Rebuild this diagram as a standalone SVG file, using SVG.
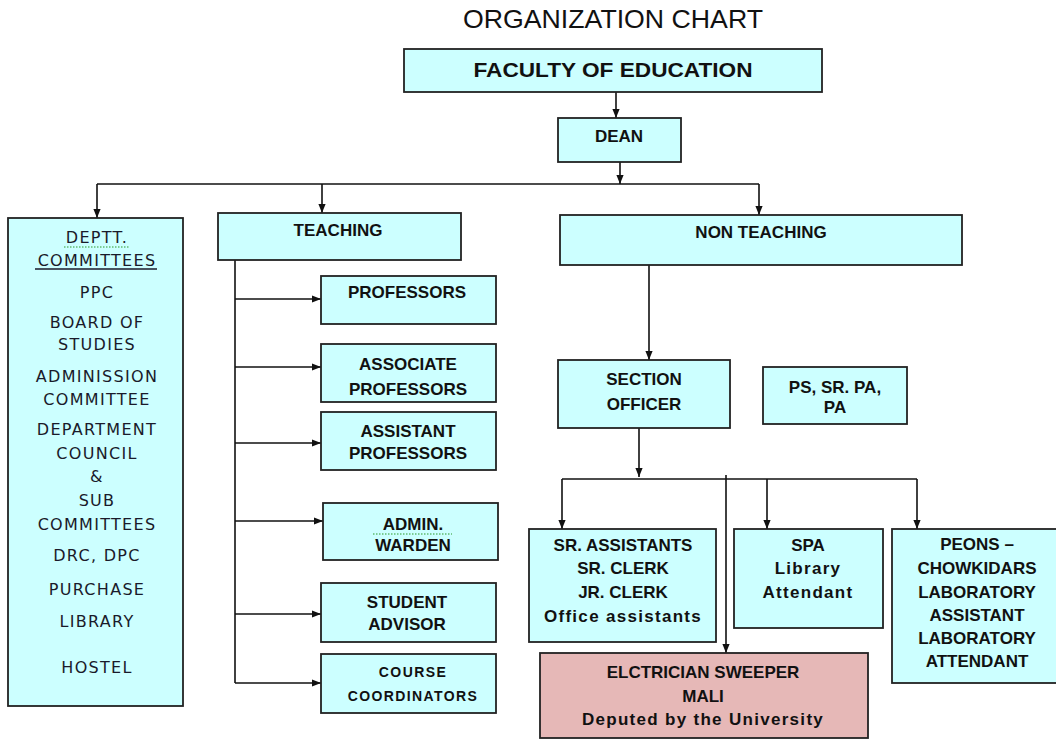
<svg xmlns="http://www.w3.org/2000/svg" width="1056" height="740" viewBox="0 0 1056 740">
<style>
.bx{fill:#CCFFFF;stroke:#222;stroke-width:1.8}
.pk{fill:#E6B8B7;stroke:#222;stroke-width:1.8}
.t{font-family:"Liberation Sans",Arial,sans-serif;font-weight:bold;font-size:17px;fill:#111;text-anchor:middle}
.lc{letter-spacing:1.3px}
.sm{font-size:14px;letter-spacing:1.4px}
.d{font-family:"DejaVu Sans",Verdana,sans-serif;font-size:16px;fill:#1a1a2a;text-anchor:middle;letter-spacing:1.3px}
.title{font-family:"Liberation Sans",Arial,sans-serif;font-size:25px;fill:#111;text-anchor:middle}
.c{fill:none;stroke:#111;stroke-width:1.6}
.ul{stroke:#1a1a2a;stroke-width:1.3}
.sp{fill:none;stroke:#2a9a2a;stroke-width:1.2;stroke-dasharray:1.5 1.5}
</style>
<defs>
<marker id="ah" viewBox="0 0 10 10" refX="10" refY="5" markerWidth="9" markerHeight="9" markerUnits="userSpaceOnUse" orient="auto">
<path d="M0,1 L10,5 L0,9 z" fill="#111"/>
</marker>
</defs>
<text class="title" x="613" y="28" textLength="300" lengthAdjust="spacingAndGlyphs">ORGANIZATION  CHART</text>
<g id="connectors">
<path class="c" d="M616,92 V118" marker-end="url(#ah)"/>
<path class="c" d="M620,162 V184" marker-end="url(#ah)"/>
<path class="c" d="M97,184 H759"/>
<path class="c" d="M97,184 V218" marker-end="url(#ah)"/>
<path class="c" d="M322,184 V213" marker-end="url(#ah)"/>
<path class="c" d="M759,184 V215" marker-end="url(#ah)"/>
<path class="c" d="M235,260 V683"/>
<path class="c" d="M235,299 H321" marker-end="url(#ah)"/>
<path class="c" d="M235,367 H321" marker-end="url(#ah)"/>
<path class="c" d="M235,443 H321" marker-end="url(#ah)"/>
<path class="c" d="M235,521 H323" marker-end="url(#ah)"/>
<path class="c" d="M235,614 H321" marker-end="url(#ah)"/>
<path class="c" d="M235,683 H321" marker-end="url(#ah)"/>
<path class="c" d="M649,265 V360" marker-end="url(#ah)"/>
<path class="c" d="M639,428 V477" marker-end="url(#ah)"/>
<path class="c" d="M562,479 H917"/>
<path class="c" d="M562,479 V529" marker-end="url(#ah)"/>
<path class="c" d="M767,479 V529" marker-end="url(#ah)"/>
<path class="c" d="M917,479 V529" marker-end="url(#ah)"/>
<path class="c" d="M726,475 V653" marker-end="url(#ah)"/>
</g>
<g id="faculty">
<rect class="bx" x="404" y="49" width="418" height="43"/>
<text class="t" x="613" y="77" style="font-size:19.5px" textLength="279" lengthAdjust="spacingAndGlyphs">FACULTY OF EDUCATION</text>
</g>
<g id="dean">
<rect class="bx" x="558" y="118" width="123" height="44"/>
<text class="t" x="619" y="142">DEAN</text>
</g>
<g id="deptt">
<rect class="bx" x="8" y="218" width="175" height="488"/>
<text class="d" x="97" y="243">DEPTT.</text>
<path class="sp" d="M64,247 H130"/>
<text class="d" x="97" y="266">COMMITTEES</text>
<line class="ul" x1="35" y1="269" x2="157" y2="269"/>
<text class="d" x="97" y="298">PPC</text>
<text class="d" x="97" y="328">BOARD OF</text>
<text class="d" x="97" y="350">STUDIES</text>
<text class="d" x="97" y="382">ADMINISSION</text>
<text class="d" x="97" y="405">COMMITTEE</text>
<text class="d" x="97" y="435">DEPARTMENT</text>
<text class="d" x="97" y="459">COUNCIL</text>
<text class="d" x="97" y="482">&amp;</text>
<text class="d" x="97" y="506">SUB</text>
<text class="d" x="97" y="530">COMMITTEES</text>
<text class="d" x="97" y="561">DRC, DPC</text>
<text class="d" x="97" y="595">PURCHASE</text>
<text class="d" x="97" y="627">LIBRARY</text>
<text class="d" x="97" y="673">HOSTEL</text>
</g>
<g id="teaching">
<rect class="bx" x="218" y="213" width="243" height="47"/>
<text class="t" x="338" y="236">TEACHING</text>
</g>
<g id="professors">
<rect class="bx" x="321" y="276" width="175" height="48"/>
<text class="t" x="407" y="298">PROFESSORS</text>
</g>
<g id="associate">
<rect class="bx" x="321" y="344" width="175" height="58"/>
<text class="t" x="408" y="370">ASSOCIATE</text>
<text class="t" x="408" y="395">PROFESSORS</text>
</g>
<g id="assistant">
<rect class="bx" x="321" y="412" width="175" height="58"/>
<text class="t" x="408" y="437">ASSISTANT</text>
<text class="t" x="408" y="459">PROFESSORS</text>
</g>
<g id="admin">
<rect class="bx" x="323" y="503" width="175" height="57"/>
<text class="t" x="413" y="530">ADMIN.</text>
<path class="sp" d="M373,534 H452"/>
<text class="t" x="413" y="551">WARDEN</text>
</g>
<g id="student">
<rect class="bx" x="321" y="583" width="175" height="59"/>
<text class="t" x="407" y="608">STUDENT</text>
<text class="t" x="407" y="630">ADVISOR</text>
</g>
<g id="course">
<rect class="bx" x="321" y="654" width="175" height="59"/>
<text class="t sm" x="413" y="677">COURSE</text>
<text class="t sm" x="413" y="701">COORDINATORS</text>
</g>
<g id="nonteaching">
<rect class="bx" x="560" y="215" width="402" height="50"/>
<text class="t" x="761" y="238">NON TEACHING</text>
</g>
<g id="section">
<rect class="bx" x="558" y="360" width="172" height="68"/>
<text class="t" x="644" y="385">SECTION</text>
<text class="t" x="644" y="410">OFFICER</text>
</g>
<g id="ps">
<rect class="bx" x="763" y="367" width="144" height="57"/>
<text class="t" x="835" y="393">PS, SR. PA,</text>
<text class="t" x="835" y="413">PA</text>
</g>
<g id="sr">
<rect class="bx" x="529" y="529" width="187" height="113"/>
<text class="t" x="623" y="551">SR. ASSISTANTS</text>
<text class="t" x="623" y="574">SR. CLERK</text>
<text class="t" x="623" y="598">JR. CLERK</text>
<text class="t lc" x="623" y="622">Office assistants</text>
</g>
<g id="spa">
<rect class="bx" x="734" y="529" width="149" height="99"/>
<text class="t" x="808" y="551">SPA</text>
<text class="t lc" x="808" y="574">Library</text>
<text class="t lc" x="808" y="598">Attendant</text>
</g>
<g id="peons">
<rect class="bx" x="892" y="529" width="170" height="154"/>
<text class="t" x="977" y="550">PEONS –</text>
<text class="t" x="977" y="574">CHOWKIDARS</text>
<text class="t" x="977" y="598">LABORATORY</text>
<text class="t" x="977" y="621">ASSISTANT</text>
<text class="t" x="977" y="644">LABORATORY</text>
<text class="t" x="977" y="667">ATTENDANT</text>
</g>
<g id="electrician">
<rect class="pk" x="540" y="653" width="328" height="85"/>
<text class="t" x="703" y="678">ELCTRICIAN SWEEPER</text>
<text class="t" x="703" y="702">MALI</text>
<text class="t lc" x="703" y="725">Deputed by the University</text>
</g>
</svg>
